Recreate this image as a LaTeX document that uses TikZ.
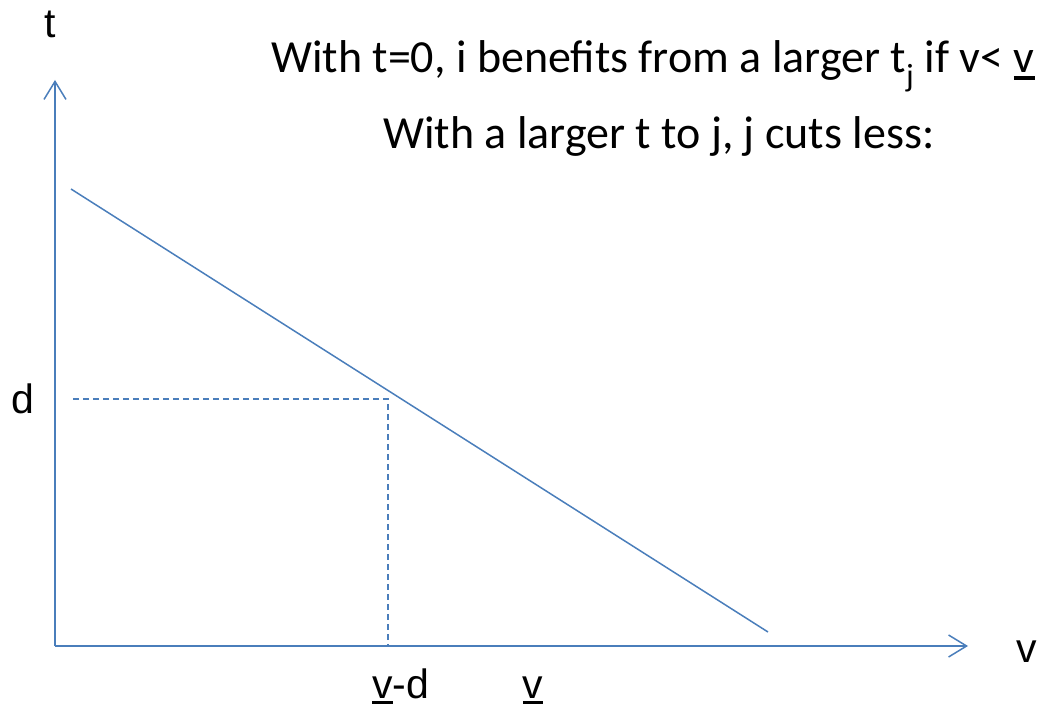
\documentclass[tikz,border=0pt]{standalone}
\usepackage{fontspec}
\setmainfont{Carlito}
\newfontfamily\axisfont{Liberation Sans}
\usetikzlibrary{arrows.meta}
\definecolor{lineblue}{RGB}{74,126,187}
\newcommand{\ubar}[1]{\leavevmode\vtop{\hbox{#1}\kern0.07em\hrule height 0.075em}}

\begin{document}
\begin{tikzpicture}[x=1pt,y=-1pt,>={Straight Barb[length=18pt,width=22pt]},
  axis/.style={lineblue,line width=1.5pt},
  cutline/.style={lineblue,line width=1.5pt,dash pattern=on 6pt off 4pt},
  lab/.style={inner sep=0pt,font=\axisfont\fontsize{41}{48}\selectfont},
  note/.style={inner sep=0pt,anchor=base west,font=\fontsize{46}{55}\selectfont}]
\useasboundingbox (0,0) rectangle (1043,711);
% axes
\coordinate (O) at (55,646);
\coordinate (ytip) at (55,80);
\coordinate (xtip) at (968,646);
\draw[axis,->] (O) -- (ytip);
\draw[axis,->] (O) -- (xtip);
\node[lab,anchor=base] (tlab) at (50,38) {t};
\node[lab,anchor=base] (vlab) at (1027,662) {v};
% the line and the cut at d
\coordinate (lstart) at (71,189);
\coordinate (lend) at (768,632);
\draw[axis] (lstart) -- (lend);
\coordinate (dleft) at (73,399);
\coordinate (dpt) at (388,399);
\coordinate (dbase) at (388,646);
\draw[cutline] (dleft) -- (dpt) -- (dbase);
\node[lab,anchor=base] (dlab) at (23,413) {d};
\node[lab,anchor=base west] (vdlab) at (372,698) {\ubar{v}-d};
\node[lab,anchor=base] (vbar) at (533,698) {\ubar{v}};
% notes
\node[note] (note1) at (271,73) {With t=0, i benefits from a larger t\textsubscript{j} if v< \ubar{v}};
\node[note] (note2) at (383,149) {With a larger t to j, j cuts less:};
\end{tikzpicture}
\end{document}
